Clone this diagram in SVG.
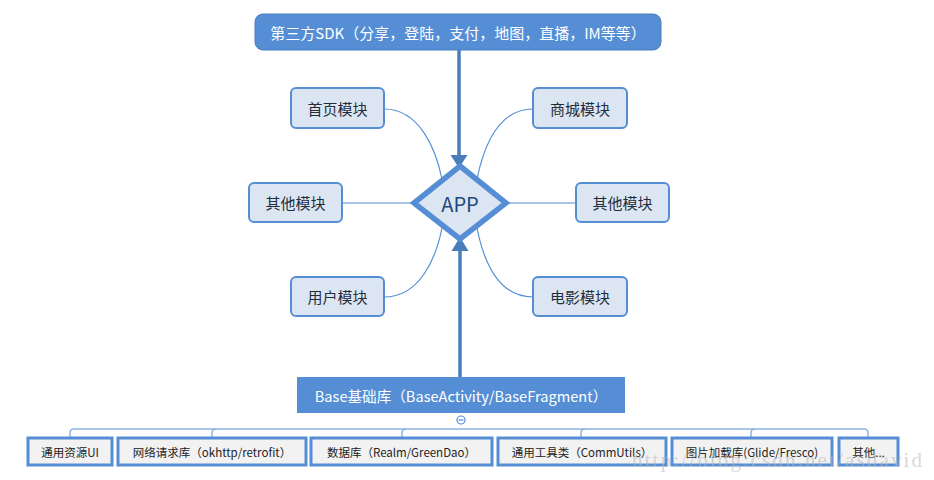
<svg xmlns="http://www.w3.org/2000/svg" width="934" height="480" viewBox="0 0 934 480">
<style>
text{font-family:"Noto Sans CJK SC","Liberation Sans",sans-serif;text-anchor:middle;dominant-baseline:central}
.mod rect{fill:#dce6f2;stroke:#558ed5;stroke-width:2}
.mod text{font-size:15px;fill:#1f2d3d}
.leaf rect{fill:#f2f2f2;stroke:#558ed5;stroke-width:3}
.leaf text{font-size:11.5px;fill:#222}
.thin{fill:none;stroke:#558ed5;stroke-width:1.2}
.tree{fill:none;stroke:#8db3e2;stroke-width:1.5}
.main{stroke:#4a7ebb;stroke-width:3.5;fill:none}
.head{fill:#4a7ebb}
.wm{font-family:"Liberation Serif",serif;font-size:21px;fill:#b8b8b8;fill-opacity:0.55}
</style>
<rect width="934" height="480" fill="#fff"/>
<g id="connectors">
  <path class="thin" d="M384,109 C420,109 436,150 442,179"/>
  <path class="thin" d="M533,109 C497,109 483,150 477,179"/>
  <path class="thin" d="M384,297 C420,297 436,258 442,228"/>
  <path class="thin" d="M533,297 C497,297 483,258 477,228"/>
  <path class="thin" d="M342,203 H413"/>
  <path class="thin" d="M507,203 H576"/>
  <line class="main" x1="459" y1="50" x2="459" y2="157"/>
  <polygon class="head" points="450.5,155 467.5,155 459,168"/>
  <line class="main" x1="460" y1="377" x2="460" y2="249"/>
  <polygon class="head" points="451.5,251 468.5,251 460,237"/>
  <path class="tree" d="M70,437 V433 Q70,429 74,429 H864 Q868,429 868,433 V437"/>
  <path class="tree" d="M212,437 V433 Q212,429 216,429"/>
  <path class="tree" d="M402,437 V433 Q402,429 406,429"/>
  <path class="tree" d="M581,437 V433 Q581,429 585,429"/>
  <path class="tree" d="M751,437 V433 Q751,429 755,429"/>
  <circle cx="461" cy="420" r="4" fill="#fff" stroke="#558ed5" stroke-width="1.2"/>
  <line x1="458.5" y1="420" x2="463.5" y2="420" stroke="#558ed5" stroke-width="1.2"/>
</g>
<g id="sdk">
  <rect x="255" y="14" width="406" height="36" rx="8" fill="#558ed5" stroke="#4a7ebb" stroke-width="1"/>
  <text x="458" y="32.5" font-size="15" fill="#fff">第三方SDK（分享，登陆，支付，地图，直播，IM等等）</text>
</g>
<g id="app">
  <polygon points="460,166 506,203 460,239 414,203" fill="#dce6f2" stroke="#558ed5" stroke-width="5.5" stroke-linejoin="miter"/>
  <text x="460" y="203" font-size="20" fill="#1f497d">APP</text>
</g>
<g id="m-home" class="mod"><rect x="291" y="88" width="93" height="40" rx="5"/><text x="337.5" y="108">首页模块</text></g>
<g id="m-mall" class="mod"><rect x="533" y="88" width="94" height="40" rx="5"/><text x="580" y="108">商城模块</text></g>
<g id="m-other-l" class="mod"><rect x="249" y="183" width="93" height="39" rx="5"/><text x="295.5" y="202.5">其他模块</text></g>
<g id="m-other-r" class="mod"><rect x="576" y="183" width="93" height="39" rx="5"/><text x="622.5" y="202.5">其他模块</text></g>
<g id="m-user" class="mod"><rect x="291" y="277" width="93" height="39" rx="5"/><text x="337.5" y="296.5">用户模块</text></g>
<g id="m-movie" class="mod"><rect x="533" y="277" width="94" height="39" rx="5"/><text x="580" y="296.5">电影模块</text></g>
<g id="base">
  <rect x="297" y="377" width="328" height="36" fill="#558ed5"/>
  <text x="461" y="395.5" font-size="14.6" fill="#fff">Base基础库（BaseActivity/BaseFragment）</text>
</g>
<g id="l-ui" class="leaf"><rect x="28" y="438" width="84" height="27"/><text x="70" y="451.5">通用资源UI</text></g>
<g id="l-net" class="leaf"><rect x="118" y="438" width="188" height="27"/><text x="212" y="451.5">网络请求库（okhttp/retrofit）</text></g>
<g id="l-db" class="leaf"><rect x="311" y="438" width="181" height="27"/><text x="401.5" y="451.5">数据库（Realm/GreenDao）</text></g>
<g id="l-util" class="leaf"><rect x="498" y="438" width="168" height="27"/><text x="582" y="451.5">通用工具类（CommUtils）</text></g>
<g id="l-img" class="leaf"><rect x="672" y="438" width="160" height="27"/><text x="752" y="451.5">图片加载库(Glide/Fresco)</text></g>
<g id="l-other" class="leaf"><rect x="839" y="438" width="59" height="27"/><text x="868.5" y="451.5">其他...</text></g>
<text class="wm" x="777" y="460" textLength="290" lengthAdjust="spacing">http://blog.csdn.net/asdavid</text>
</svg>
